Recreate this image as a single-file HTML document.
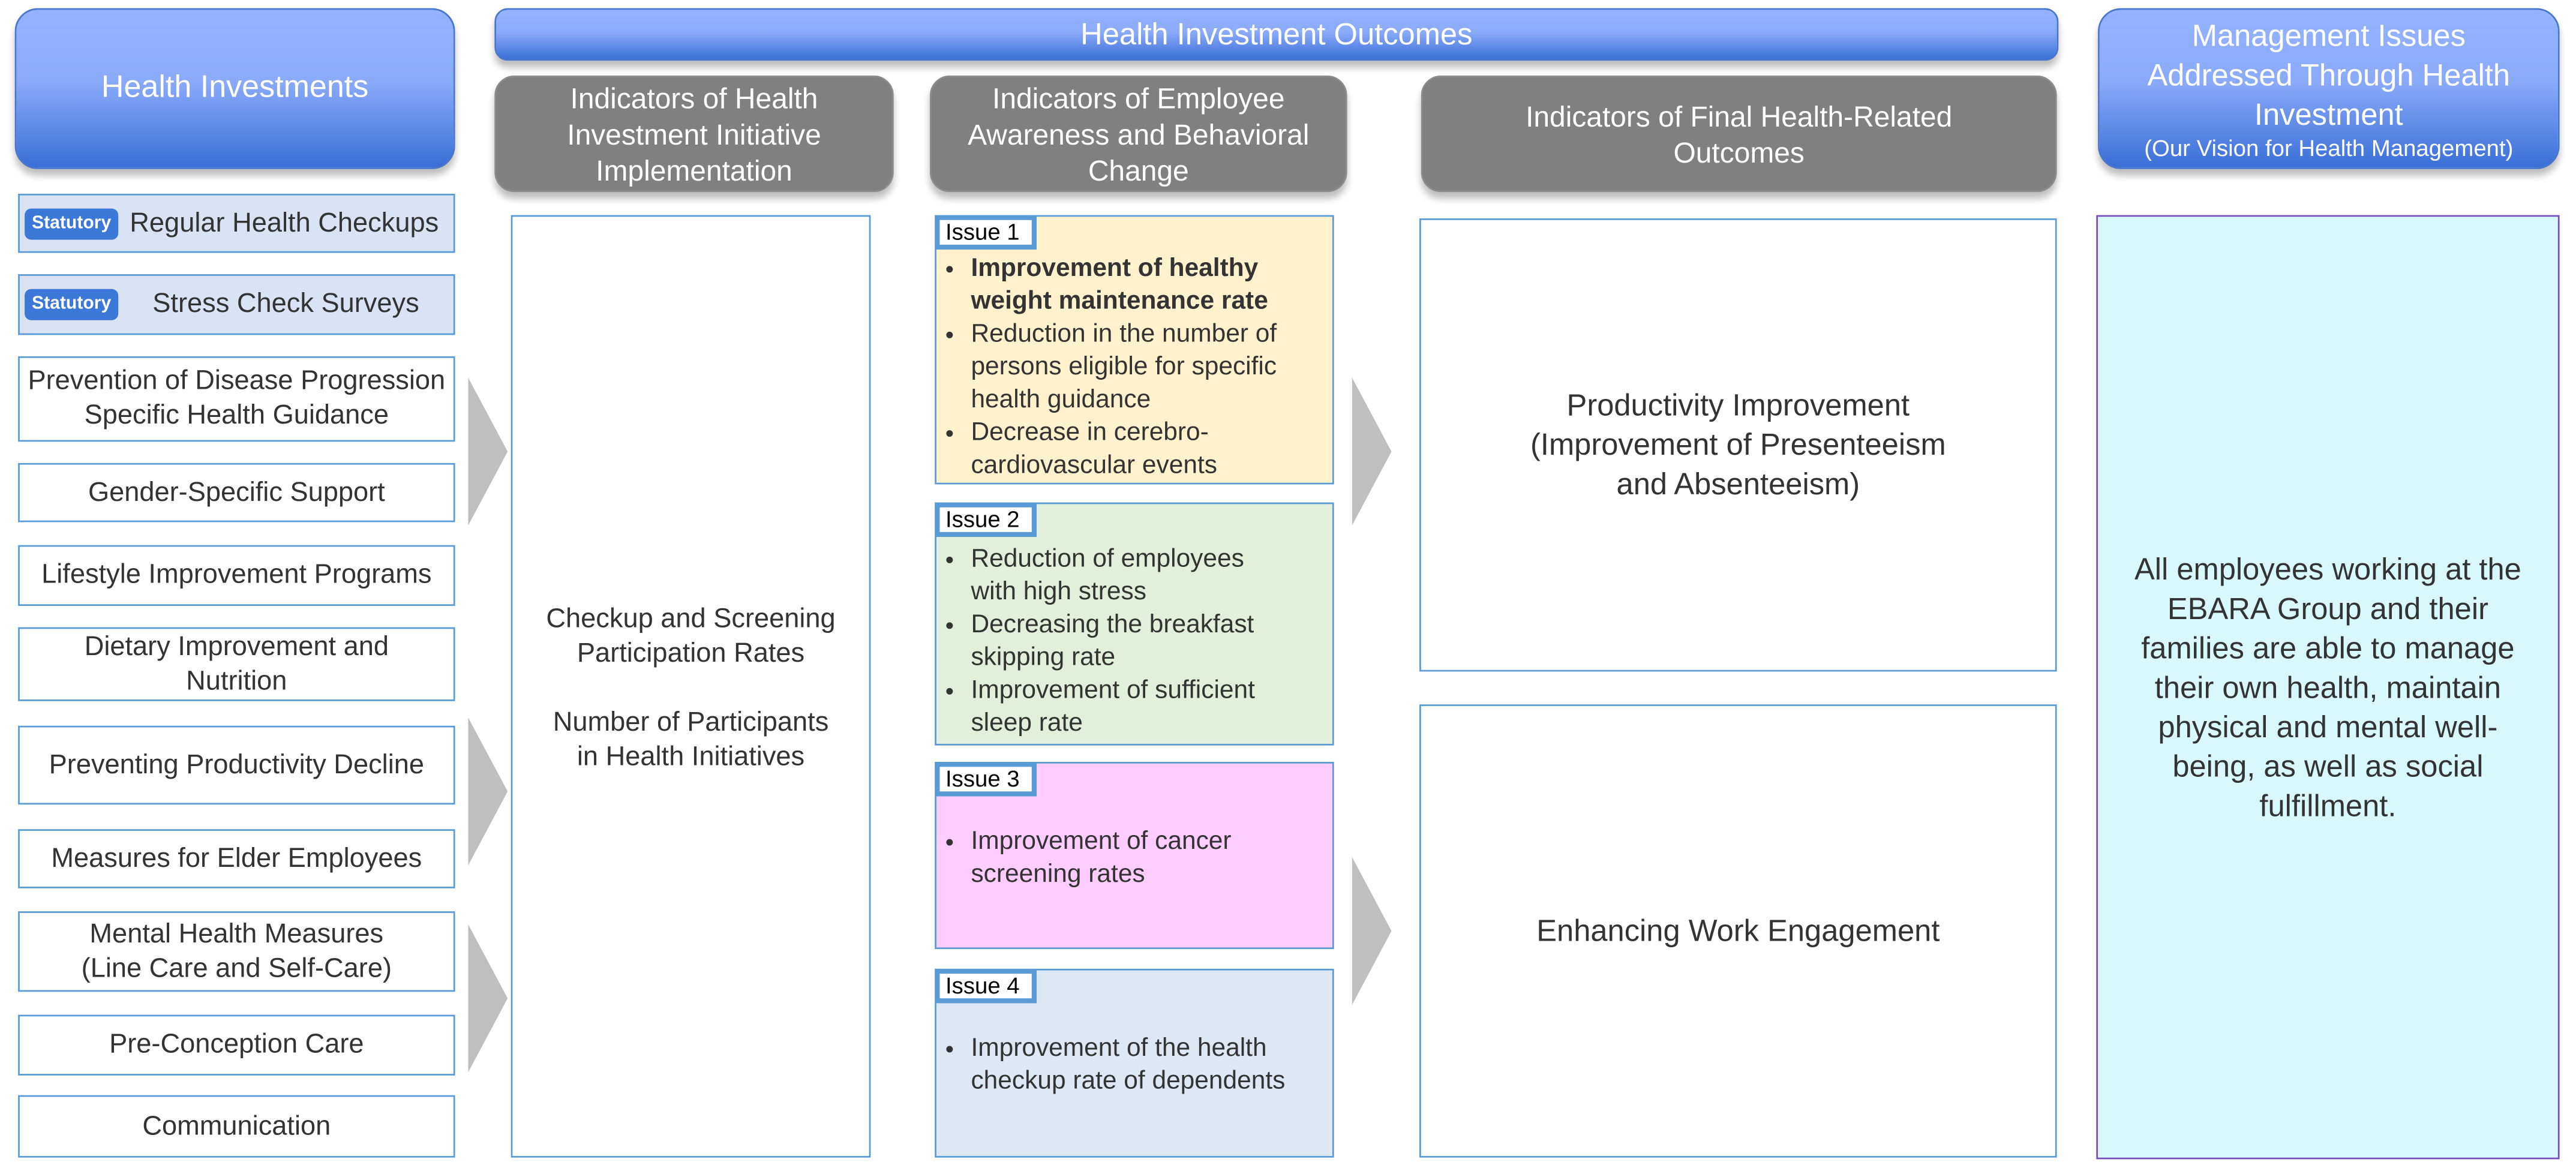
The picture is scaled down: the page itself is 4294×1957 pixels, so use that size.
<!DOCTYPE html>
<html><head><meta charset="utf-8"><style>
html,body{margin:0;padding:0;background:#fff;}
body{width:4294px;height:1957px;overflow:hidden;position:relative;}
#s{position:absolute;left:0;top:0;width:1568px;height:715px;transform:scale(2.7385,2.7371);transform-origin:0 0;font-family:"Liberation Sans",Arial,sans-serif;color:#333;}
.a{position:absolute;box-sizing:border-box;}
.blue{background:linear-gradient(#94b3ff,#8aabf8 45%,#3a6fd8);border:1px solid #4a77c9;color:#fff;border-radius:14px;display:flex;align-items:center;justify-content:center;text-align:center;box-shadow:0 4px 4px rgba(0,0,0,.25);white-space:nowrap;}
.gray{background:#808080;border:1.5px solid #8c8c8c;color:#fff;border-radius:12px;display:flex;align-items:center;justify-content:center;text-align:center;font-size:17.5px;line-height:22px;box-shadow:0 4px 4px rgba(0,0,0,.25);white-space:nowrap;}
.it{border:1.5px solid #5b9bd5;display:flex;align-items:center;justify-content:center;text-align:center;font-size:16.5px;line-height:21px;background:#fff;white-space:nowrap;}
.st{background:#dae3f3;}
.badge{position:absolute;left:3px;top:8px;width:57px;height:19px;background:#3c78d8;border-radius:4px;color:#fff;font-size:11px;font-weight:bold;display:flex;align-items:center;justify-content:center;}
.arr{position:absolute;width:0;height:0;border-left:24px solid #bfbfbf;border-top:45px solid transparent;border-bottom:45px solid transparent;}
.iss{border:1.5px solid #5b9bd5;font-size:15.5px;line-height:20px;white-space:nowrap;}
.tag{position:absolute;left:-1.5px;top:-1.5px;width:62px;height:21px;border:3px solid #5b9bd5;box-sizing:border-box;background:#fff;color:#000;font-size:14px;line-height:15px;padding-left:4px;}
ul{margin:0;padding:0 0 0 21px;}
li{margin:0;padding:0;}
.fin{border:1.5px solid #5b9bd5;display:flex;align-items:center;justify-content:center;text-align:center;font-size:18.5px;line-height:24px;background:#fff;white-space:nowrap;}
</style></head><body><div id="s">
<div class="a blue" style="left:9px;top:5px;width:268px;height:98px;font-size:19px;">Health Investments</div>
<div class="a blue" style="left:301px;top:5px;width:952px;height:32px;font-size:18.5px;border-radius:8px;">Health Investment Outcomes</div>
<div class="a blue" style="left:1277px;top:5px;width:281px;height:98px;font-size:18.5px;line-height:24px;flex-direction:column;"><div>Management Issues<br>Addressed Through Health<br>Investment</div><div style="font-size:14px;line-height:17px;">(Our Vision for Health Management)</div></div>
<div class="a gray" style="left:301px;top:46px;width:243px;height:71px;">Indicators of Health<br>Investment Initiative<br>Implementation</div>
<div class="a gray" style="left:566px;top:46px;width:254px;height:71px;">Indicators of Employee<br>Awareness and Behavioral<br>Change</div>
<div class="a gray" style="left:865px;top:46px;width:387px;height:71px;">Indicators of Final Health-Related<br>Outcomes</div>

<div class="a it st" style="left:11px;top:118px;width:266px;height:36px;padding-left:58px;"><span class="badge">Statutory</span>Regular Health Checkups</div>
<div class="a it st" style="left:11px;top:167px;width:266px;height:37px;padding-left:60px;"><span class="badge">Statutory</span>Stress Check Surveys</div>
<div class="a it" style="left:11px;top:217px;width:266px;height:52px;">Prevention of Disease Progression<br>Specific Health Guidance</div>
<div class="a it" style="left:11px;top:282px;width:266px;height:36px;">Gender-Specific Support</div>
<div class="a it" style="left:11px;top:332px;width:266px;height:37px;">Lifestyle Improvement Programs</div>
<div class="a it" style="left:11px;top:382px;width:266px;height:45px;">Dietary Improvement and<br>Nutrition</div>
<div class="a it" style="left:11px;top:442px;width:266px;height:48px;">Preventing Productivity Decline</div>
<div class="a it" style="left:11px;top:505px;width:266px;height:36px;">Measures for Elder Employees</div>
<div class="a it" style="left:11px;top:555px;width:266px;height:49px;">Mental Health Measures<br>(Line Care and Self-Care)</div>
<div class="a it" style="left:11px;top:618px;width:266px;height:37px;">Pre-Conception Care</div>
<div class="a it" style="left:11px;top:667px;width:266px;height:38px;">Communication</div>

<div class="arr" style="left:285px;top:230px;"></div>
<div class="arr" style="left:285px;top:437px;"></div>
<div class="arr" style="left:285px;top:563px;"></div>

<div class="a" style="left:311px;top:131px;width:219px;height:574px;border:1.5px solid #5b9bd5;text-align:center;font-size:16.5px;line-height:21px;padding-top:235px;white-space:nowrap;">Checkup and Screening<br>Participation Rates<br><br>Number of Participants<br>in Health Initiatives</div>

<div class="a iss" style="left:569px;top:131px;width:243px;height:164px;background:#fff2cc;padding-top:22px;"><div class="tag">Issue 1</div><ul><li><b>Improvement of healthy<br>weight maintenance rate</b></li><li>Reduction in the number of<br>persons eligible for specific<br>health guidance</li><li>Decrease in cerebro-<br>cardiovascular events</li></ul></div>
<div class="a iss" style="left:569px;top:306px;width:243px;height:148px;background:#e2efda;padding-top:24px;"><div class="tag">Issue 2</div><ul><li>Reduction of employees<br>with high stress</li><li>Decreasing the breakfast<br>skipping rate</li><li>Improvement of sufficient<br>sleep rate</li></ul></div>
<div class="a iss" style="left:569px;top:464px;width:243px;height:114px;background:#ffccff;padding-top:38px;"><div class="tag">Issue 3</div><ul><li>Improvement of cancer<br>screening rates</li></ul></div>
<div class="a iss" style="left:569px;top:590px;width:243px;height:115px;background:#dee8f4;padding-top:38px;"><div class="tag">Issue 4</div><ul><li>Improvement of the health<br>checkup rate of dependents</li></ul></div>

<div class="arr" style="left:823px;top:230px;"></div>
<div class="arr" style="left:823px;top:522px;"></div>

<div class="a fin" style="left:864px;top:133px;width:388px;height:276px;">Productivity Improvement<br>(Improvement of Presenteeism<br>and Absenteeism)</div>
<div class="a fin" style="left:864px;top:429px;width:388px;height:276px;">Enhancing Work Engagement</div>

<div class="a" style="left:1276px;top:131px;width:282px;height:575px;background:#d9f8fb;border:1.5px solid #7a50b8;display:flex;align-items:center;justify-content:center;text-align:center;font-size:18.5px;line-height:24px;white-space:nowrap;">All employees working at the<br>EBARA Group and their<br>families are able to manage<br>their own health, maintain<br>physical and mental well-<br>being, as well as social<br>fulfillment.</div>
</div></body></html>
